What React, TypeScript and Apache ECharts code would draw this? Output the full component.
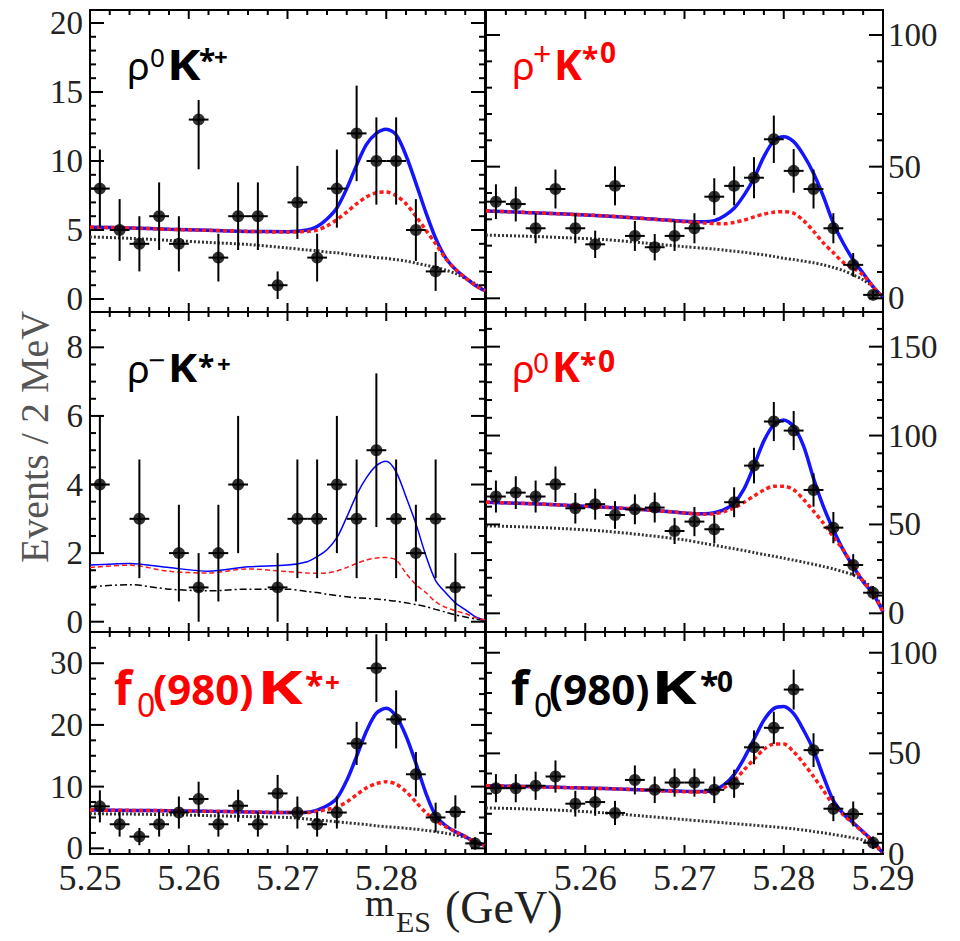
import React, { useEffect, useRef } from "react";
import * as echarts from "echarts";

// ---------------- DATA ----------------
const BIN_CENTERS = [5.251, 5.253, 5.255, 5.257, 5.259, 5.261, 5.263, 5.265, 5.267, 5.269, 5.271, 5.273, 5.275, 5.277, 5.279, 5.281, 5.283, 5.285, 5.287, 5.289];
const HALF_BIN = 0.001;
const CURVE_X = [5.25, 5.254, 5.258, 5.262, 5.266, 5.27, 5.272, 5.273, 5.274, 5.275, 5.276, 5.277, 5.278, 5.279, 5.28, 5.281, 5.282, 5.283, 5.284, 5.285, 5.286, 5.287, 5.288, 5.289, 5.29];

const X_MAJOR_TICKS = [5.25, 5.26, 5.27, 5.28, 5.29];
const X_MINOR_TICKS = [5.252, 5.254, 5.256, 5.258, 5.262, 5.264, 5.266, 5.268, 5.272, 5.274, 5.276, 5.278, 5.282, 5.284, 5.286, 5.288];
const X_LABELS_LEFT = [5.25, 5.26, 5.27, 5.28];
const X_LABELS_RIGHT = [5.26, 5.27, 5.28, 5.29];

// rho0 K*+ (top left)
const RHO0_KSP_VALUES = [8, 5, 4, 6, 4, 13, 3, 6, 6, 1, 7, 3, 8, 12, 10, 10, 5, 2, null, null];
const RHO0_KSP_ERRORS = [2.83, 2.24, 2, 2.45, 2, 3.6, 1.73, 2.45, 2.45, 1, 2.65, 1.73, 2.83, 3.46, 3.16, 3.16, 2.24, 1.41, null, null];
const RHO0_KSP_TOTAL = [5.2, 5.15, 5.05, 4.98, 4.9, 4.88, 5.0, 5.25, 5.8, 6.6, 8.0, 9.7, 11.2, 12.0, 12.3, 11.9, 10.4, 8.4, 6.3, 4.4, 3.0, 2.15, 1.55, 1.0, 0.6];
const RHO0_KSP_DASHED = [5.2, 5.15, 5.05, 4.98, 4.9, 4.85, 4.9, 5.0, 5.3, 5.75, 6.3, 6.9, 7.4, 7.7, 7.75, 7.5, 6.9, 6.0, 5.0, 4.0, 2.95, 2.15, 1.55, 1.0, 0.6];
const RHO0_KSP_BKG = [4.5, 4.4, 4.25, 4.1, 3.95, 3.7, 3.55, 3.5, 3.4, 3.35, 3.25, 3.15, 3.1, 3.0, 2.95, 2.85, 2.75, 2.6, 2.45, 2.3, 2.1, 1.85, 1.5, 1.1, 0.6];
const RHO0_KSP_Y_MAJOR = [0, 5, 10, 15, 20];
const RHO0_KSP_Y_MINOR = [1, 2, 3, 4, 6, 7, 8, 9, 11, 12, 13, 14, 16, 17, 18, 19];

// rho+ K*0 (top right)
const RHOP_KS0_VALUES = [36.7, 35.8, 26.6, 41.5, 26.6, 20.5, 42.7, 23.7, 19.4, 23.7, 26.6, 38.6, 42.7, 45.8, 60.4, 48.4, 41.5, 26.6, 12.7, 1.3];
const RHOP_KS0_ERRORS = [6.6, 6.6, 5.7, 7.4, 5.7, 5.2, 7.4, 5.7, 5.0, 5.7, 5.7, 7.0, 7.4, 7.8, 9.0, 8.3, 7.4, 5.7, 4.5, 1.6];
const RHOP_KS0_TOTAL = [33.2, 32.6, 32.0, 31.3, 30.3, 29.3, 29.1, 29.5, 31.3, 34.2, 39.2, 45.6, 53.8, 59.8, 61.4, 59.5, 54.4, 47.5, 38.6, 28.5, 20.9, 14.6, 9.5, 4.4, 0.3];
const RHOP_KS0_DASHED = [33.2, 32.6, 32.0, 31.3, 30.3, 29.1, 28.6, 28.4, 28.3, 28.8, 29.7, 30.9, 32.0, 32.7, 32.9, 32.3, 29.5, 25.5, 21.0, 17.3, 13.6, 11.5, 8.8, 4.4, 0.3];
const RHOP_KS0_BKG = [24.0, 23.6, 23.0, 22.3, 21.0, 19.6, 19.0, 18.7, 18.3, 17.9, 17.5, 17.0, 16.5, 15.9, 15.2, 14.7, 14.1, 13.5, 12.7, 11.7, 10.5, 8.9, 7.0, 4.3, 0.3];
const RHOP_KS0_Y_MAJOR = [0, 50, 100];
const RHOP_KS0_Y_MINOR = [10, 20, 30, 40, 60, 70, 80, 90];

// rho- K*+ (middle left)
const RHOM_KSP_VALUES = [4, null, 3, null, 2, 1, 2, 4, null, 1, 3, 3, 4, 3, 5, 3, 2, 3, 1, null];
const RHOM_KSP_ERRORS = [2, null, 1.73, null, 1.41, 1, 1.41, 2, null, 1, 1.73, 1.73, 2, 1.73, 2.24, 1.73, 1.41, 1.73, 1, null];
const RHOM_KSP_TOTAL = [1.65, 1.7, 1.58, 1.47, 1.6, 1.65, 1.75, 1.9, 2.1, 2.45, 3.05, 3.7, 4.2, 4.55, 4.68, 4.37, 3.64, 2.86, 1.94, 1.2, 0.85, 0.55, 0.35, 0.15, 0.05];
const RHOM_KSP_DASHED = [1.58, 1.65, 1.47, 1.42, 1.54, 1.46, 1.42, 1.41, 1.42, 1.48, 1.58, 1.7, 1.8, 1.86, 1.87, 1.8, 1.41, 1.08, 0.85, 0.58, 0.42, 0.32, 0.24, 0.12, 0.05];
const RHOM_KSP_BKG = [1.02, 1.08, 0.95, 0.9, 0.95, 0.95, 0.88, 0.85, 0.8, 0.76, 0.73, 0.7, 0.68, 0.66, 0.63, 0.6, 0.55, 0.5, 0.44, 0.36, 0.28, 0.2, 0.14, 0.08, 0.04];
const RHOM_KSP_Y_MAJOR = [0, 2, 4, 6, 8];
const RHOM_KSP_Y_MINOR = [0.5, 1, 1.5, 2.5, 3, 3.5, 4.5, 5, 5.5, 6.5, 7, 7.5, 8.5];

// rho0 K*0 (middle right)
const RHO0_KS0_VALUES = [65.7, 67.9, 65.7, 72.6, 59.1, 61.4, 55.3, 58.5, 59.5, 46.3, 51.6, 47.3, 62.5, 83.1, 107.9, 102.8, 69.4, 48.2, 27.2, 11.6];
const RHO0_KS0_ERRORS = [9, 9.2, 9, 10, 8.6, 8.7, 7.8, 8.4, 8.4, 7.3, 8.2, 8, 8.4, 10, 11, 11, 9.4, 8.8, 6.1, 3.8];
const RHO0_KS0_TOTAL = [62.5, 61.8, 60.8, 59.7, 58.3, 56.5, 56.0, 56.6, 58.3, 62.0, 70.0, 83.0, 97.0, 106.0, 108.8, 105.0, 94.0, 76.0, 60.0, 47.0, 35.6, 26.3, 17.8, 11.0, 0.9];
const RHO0_KS0_DASHED = [62.5, 61.8, 60.8, 59.7, 58.3, 56.5, 55.8, 56.0, 57.2, 59.3, 62.5, 66.0, 69.4, 71.5, 71.5, 69.5, 64.0, 57.5, 50.7, 43.0, 35.6, 26.3, 18.2, 11.0, 0.9];
const RHO0_KS0_BKG = [49.2, 48.6, 47.6, 46.2, 44.0, 41.3, 39.3, 38.3, 37.3, 36.3, 35.3, 34.2, 33.1, 32.1, 31.0, 29.9, 28.8, 27.6, 26.3, 25.0, 23.4, 21.6, 18.5, 13.1, 0.9];
const RHO0_KS0_Y_MAJOR = [0, 50, 100, 150];
const RHO0_KS0_Y_MINOR = [10, 20, 30, 40, 60, 70, 80, 90, 110, 120, 130, 140, 160];

// f0(980) K*+ (bottom left)
const F0_KSP_VALUES = [6.8, 3.9, 1.9, 3.9, 5.8, 8, 3.9, 6.9, 3.9, 8.9, 5.8, 3.9, 5.8, 17, 29.2, 20.9, 12, 5, 5.9, 0.8];
const F0_KSP_ERRORS = [2.6, 2, 1.4, 2, 2.6, 2.8, 2, 2.6, 2, 3, 2.6, 2, 2.6, 3.5, 5.5, 4.7, 3.6, 2.4, 2.7, 1];
const F0_KSP_TOTAL = [6.2, 6.15, 6.1, 6.0, 5.9, 5.8, 5.85, 6.2, 6.9, 8.1, 11.0, 14.9, 19.0, 21.9, 22.7, 21.4, 18.2, 13.8, 9.0, 5.3, 3.7, 2.7, 1.9, 1.0, 0.5];
const F0_KSP_DASHED = [6.2, 6.15, 6.1, 6.0, 5.9, 5.8, 5.8, 6.0, 6.3, 6.7, 7.5, 8.7, 9.8, 10.5, 10.8, 10.4, 9.2, 7.5, 5.8, 4.5, 3.5, 2.7, 1.9, 1.0, 0.5];
const F0_KSP_BKG = [5.6, 5.55, 5.45, 5.3, 5.15, 5.0, 4.75, 4.6, 4.45, 4.3, 4.15, 4.0, 3.85, 3.65, 3.5, 3.4, 3.25, 3.1, 2.9, 2.7, 2.45, 2.15, 1.75, 1.2, 0.5];
const F0_KSP_Y_MAJOR = [0, 10, 20, 30];
const F0_KSP_Y_MINOR = [2.5, 5, 7.5, 12.5, 15, 17.5, 22.5, 25, 27.5, 32.5];

// f0(980) K*0 (bottom right)
const F0_KS0_VALUES = [32.7, 32.7, 33.9, 38.5, 25, 25.8, 20.4, 36.8, 31.9, 35.5, 35.5, 31.9, 34.9, 53, 62.7, 81.7, 51.6, 22.5, 19.9, 5.6];
const F0_KS0_ERRORS = [7, 7, 7, 8, 6.4, 6.8, 6, 7.2, 6.6, 7, 7, 6.6, 7, 8.4, 8, 9.9, 8.4, 6.2, 6.2, 3.1];
const F0_KS0_TOTAL = [33.9, 33.5, 33.0, 32.5, 31.8, 31.2, 31.1, 31.8, 34.5, 39.5, 47.5, 57.0, 66.5, 72.3, 73.3, 69.7, 61.5, 51.6, 38.5, 26.5, 20.0, 15.5, 11.0, 6.4, 0.3];
const F0_KS0_DASHED = [33.9, 33.5, 33.0, 32.5, 31.8, 30.9, 30.8, 31.3, 33.0, 36.5, 41.8, 47.0, 52.0, 54.6, 54.6, 50.8, 45.0, 38.5, 31.5, 24.5, 19.5, 15.1, 10.8, 5.9, 0.3];
const F0_KS0_BKG = [22.9, 22.4, 21.6, 20.4, 18.8, 17.1, 16.3, 15.9, 15.5, 15.1, 14.7, 14.3, 13.9, 13.5, 13.0, 12.5, 11.9, 11.2, 10.5, 9.7, 8.9, 8.0, 6.9, 4.8, 0.3];
const F0_KS0_Y_MAJOR = [0, 50, 100];
const F0_KS0_Y_MINOR = [10, 20, 30, 40, 60, 70, 80, 90];

const Y_TITLE = "Events / 2 MeV";

// ---------------- LAYOUT ----------------
const COLS = [
  { left: 90, width: 395 },
  { left: 486, width: 397 },
];
const ROWS = [
  { top: 10, height: 302 },
  { top: 312, height: 320 },
  { top: 632, height: 222 },
];
// tick code -> length (0,1: bottom x; 2,3: top x; 4,5: left y; 6,7: right y; even = major, odd = minor)
const TICK_LENGTHS = [9, 5, 9, 5, 14, 6, 14, 6];

type Panel = {
  col: number; row: number; yMin: number; yMax: number;
  yMajor: number[]; yMinor: number[];
  values: (number | null)[]; errors: (number | null)[];
  total: number[]; dashed: number[]; bkg: number[]; thin: boolean;
};

const PANELS: Panel[] = [
  { col: 0, row: 0, yMin: -0.94, yMax: 20.94, yMajor: RHO0_KSP_Y_MAJOR, yMinor: RHO0_KSP_Y_MINOR, values: RHO0_KSP_VALUES, errors: RHO0_KSP_ERRORS, total: RHO0_KSP_TOTAL, dashed: RHO0_KSP_DASHED, bkg: RHO0_KSP_BKG, thin: false },
  { col: 1, row: 0, yMin: -5.2, yMax: 109.5, yMajor: RHOP_KS0_Y_MAJOR, yMinor: RHOP_KS0_Y_MINOR, values: RHOP_KS0_VALUES, errors: RHOP_KS0_ERRORS, total: RHOP_KS0_TOTAL, dashed: RHOP_KS0_DASHED, bkg: RHOP_KS0_BKG, thin: false },
  { col: 0, row: 1, yMin: -0.3, yMax: 9.03, yMajor: RHOM_KSP_Y_MAJOR, yMinor: RHOM_KSP_Y_MINOR, values: RHOM_KSP_VALUES, errors: RHOM_KSP_ERRORS, total: RHOM_KSP_TOTAL, dashed: RHOM_KSP_DASHED, bkg: RHOM_KSP_BKG, thin: true },
  { col: 1, row: 1, yMin: -10.5, yMax: 169.5, yMajor: RHO0_KS0_Y_MAJOR, yMinor: RHO0_KS0_Y_MINOR, values: RHO0_KS0_VALUES, errors: RHO0_KS0_ERRORS, total: RHO0_KS0_TOTAL, dashed: RHO0_KS0_DASHED, bkg: RHO0_KS0_BKG, thin: false },
  { col: 0, row: 2, yMin: -0.92, yMax: 35.06, yMajor: F0_KSP_Y_MAJOR, yMinor: F0_KSP_Y_MINOR, values: F0_KSP_VALUES, errors: F0_KSP_ERRORS, total: F0_KSP_TOTAL, dashed: F0_KSP_DASHED, bkg: F0_KSP_BKG, thin: false },
  { col: 1, row: 2, yMin: 0, yMax: 110.3, yMajor: F0_KS0_Y_MAJOR, yMinor: F0_KS0_Y_MINOR, values: F0_KS0_VALUES, errors: F0_KS0_ERRORS, total: F0_KS0_TOTAL, dashed: F0_KS0_DASHED, bkg: F0_KS0_BKG, thin: false },
];

type Piece = { t: string; x: number; base: number; size: number; bold: boolean; sx?: number };
const LABELS: { color: string; pieces: Piece[] }[] = [
  { color: "#000", pieces: [
    { t: "ρ", x: 127, base: 80, size: 38, bold: false },
    { t: "0", x: 150, base: 67, size: 26, bold: false },
    { t: "K", x: 167, base: 80, size: 42, bold: true, sx: 1.2 },
    { t: "*", x: 199, base: 71, size: 30, bold: true },
    { t: "+", x: 214, base: 66, size: 24, bold: true },
  ] },
  { color: "#ff0000", pieces: [
    { t: "ρ", x: 512, base: 80, size: 38, bold: false },
    { t: "+", x: 533, base: 66, size: 32, bold: false },
    { t: "K", x: 554, base: 80, size: 42, bold: true },
    { t: "*", x: 582, base: 69, size: 30, bold: true },
    { t: "0", x: 600, base: 63, size: 28, bold: true },
  ] },
  { color: "#000", pieces: [
    { t: "ρ", x: 127, base: 383, size: 38, bold: false },
    { t: "−", x: 148, base: 371, size: 30, bold: false },
    { t: "K", x: 168, base: 382, size: 40, bold: true, sx: 1.1 },
    { t: "*", x: 198, base: 377, size: 30, bold: true },
    { t: "+", x: 217, base: 373, size: 24, bold: true },
  ] },
  { color: "#ff0000", pieces: [
    { t: "ρ", x: 512, base: 383, size: 38, bold: false },
    { t: "0", x: 533, base: 373, size: 28, bold: false },
    { t: "K", x: 552, base: 382, size: 42, bold: true },
    { t: "*", x: 580, base: 375, size: 30, bold: true },
    { t: "0", x: 598, base: 372, size: 30, bold: true },
  ] },
  { color: "#ff0000", pieces: [
    { t: "f", x: 114, base: 705, size: 46, bold: true },
    { t: "0", x: 137, base: 717, size: 32, bold: false },
    { t: "(980)", x: 153, base: 705, size: 42, bold: true },
    { t: "K", x: 257, base: 704, size: 46, bold: true, sx: 1.5 },
    { t: "*", x: 305, base: 697, size: 34, bold: true },
    { t: "+", x: 325, base: 692, size: 26, bold: true },
  ] },
  { color: "#000", pieces: [
    { t: "f", x: 511, base: 705, size: 46, bold: true },
    { t: "0", x: 534, base: 717, size: 32, bold: false },
    { t: "(980)", x: 549, base: 705, size: 42, bold: true },
    { t: "K", x: 651, base: 704, size: 46, bold: true, sx: 1.5 },
    { t: "*", x: 700, base: 697, size: 34, bold: true },
    { t: "0", x: 717, base: 692, size: 28, bold: true },
  ] },
];

const SERIF = "'Liberation Serif', 'Times New Roman', serif";
const SANS = "'Noto Sans', 'DejaVu Sans', sans-serif";
const INK = "#000";

function buildOption() {
  const grid: any[] = [];
  const xAxis: any[] = [];
  const yAxis: any[] = [];
  const series: any[] = [];

  PANELS.forEach((p, g) => {
    const c = COLS[p.col];
    const r = ROWS[p.row];
    grid.push({ left: c.left, top: r.top, width: c.width, height: r.height, show: true, borderColor: "#000", borderWidth: 2 });

    const showXLabels = p.row === 2;
    xAxis.push({
      gridIndex: g, type: "value", min: 5.25, max: 5.29, position: "bottom",
      axisLine: { show: false, onZero: false }, splitLine: { show: false }, axisTick: { show: false },
      axisLabel: showXLabels
        ? { show: true, customValues: p.col === 0 ? X_LABELS_LEFT : X_LABELS_RIGHT, formatter: (v: number) => v.toFixed(2), fontSize: 36, lineHeight: 28, fontFamily: SERIF, color: "#222", margin: 10 }
        : { show: false },
    });
    yAxis.push({
      gridIndex: g, type: "value", min: p.yMin, max: p.yMax, position: p.col === 0 ? "left" : "right",
      axisLine: { show: false, onZero: false }, splitLine: { show: false }, axisTick: { show: false },
      axisLabel: { show: true, customValues: p.yMajor, formatter: (v: number) => String(v), fontSize: 33, lineHeight: 20, fontFamily: SERIF, color: "#222", margin: p.col === 0 ? 7 : 5 },
    });

    const curve = (ys: number[]) => CURVE_X.map((x, i) => [x, ys[i]]);
    const w = p.thin ? 1.5 : 3.5;
    series.push({
      type: "line", xAxisIndex: g, yAxisIndex: g, data: curve(p.bkg), symbol: "none", smooth: 0.3, silent: true, z: 3,
      lineStyle: p.thin ? { color: "#000", width: 1.5, type: [7, 3, 2, 3] } : { color: "#333", width: 3, type: [2, 2] },
    });
    series.push({
      type: "line", xAxisIndex: g, yAxisIndex: g, data: curve(p.total), symbol: "none", smooth: 0.3, silent: true, z: 4,
      lineStyle: { color: p.thin ? "#0000ff" : "#1414ff", width: w },
    });
    series.push({
      type: "line", xAxisIndex: g, yAxisIndex: g, data: curve(p.dashed), symbol: "none", smooth: 0.3, silent: true, z: 5,
      lineStyle: { color: "#ff1a1a", width: w, type: p.thin ? [5, 3] : [4, 3] },
    });

    // one custom series per panel: error bars (3rd value >= 0 is the error)
    // and frame tick marks (3rd value < 0 encodes which tick: -(code + 1))
    const pts: number[][] = [];
    BIN_CENTERS.forEach((x, i) => {
      const v = p.values[i];
      const e = p.errors[i];
      if (v !== null && e !== null) pts.push([x, v, e]);
    });
    const yMid = (p.yMin + p.yMax) / 2;
    const items: number[][] = pts.slice();
    X_MAJOR_TICKS.forEach((v) => { items.push([v, yMid, -1]); items.push([v, yMid, -3]); });
    X_MINOR_TICKS.forEach((v) => { items.push([v, yMid, -2]); items.push([v, yMid, -4]); });
    p.yMajor.forEach((v) => { items.push([5.27, v, -5]); items.push([5.27, v, -7]); });
    p.yMinor.forEach((v) => { items.push([5.27, v, -6]); items.push([5.27, v, -8]); });

    series.push({
      type: "custom", xAxisIndex: g, yAxisIndex: g, data: items, silent: true, z: 6, clip: true,
      encode: { x: 0, y: 1 },
      renderItem: (params: any, api: any) => {
        const x = api.value(0);
        const y = api.value(1);
        const e = api.value(2);
        if (e >= 0) {
          const cpt = api.coord([x, y]);
          const top = api.coord([x, y + e]);
          const bot = api.coord([x, y - e]);
          const l = api.coord([x - HALF_BIN, y]);
          const rr = api.coord([x + HALF_BIN, y]);
          return {
            type: "group",
            children: [
              { type: "line", shape: { x1: cpt[0], y1: top[1], x2: cpt[0], y2: bot[1] }, style: { stroke: INK, lineWidth: 2 } },
              { type: "line", shape: { x1: l[0], y1: cpt[1], x2: rr[0], y2: cpt[1] }, style: { stroke: INK, lineWidth: 2 } },
            ],
          };
        }
        const code = Math.round(-e - 1);
        const len = TICK_LENGTHS[code] || 6;
        const cs = params.coordSys;
        const pt = api.coord([x, y]);
        const b = cs.y + cs.height;
        const rgt = cs.x + cs.width;
        let shape;
        if (code <= 1) shape = { x1: pt[0], y1: b, x2: pt[0], y2: b - len };
        else if (code <= 3) shape = { x1: pt[0], y1: cs.y, x2: pt[0], y2: cs.y + len };
        else if (code <= 5) shape = { x1: cs.x, y1: pt[1], x2: cs.x + len, y2: pt[1] };
        else shape = { x1: rgt, y1: pt[1], x2: rgt - len, y2: pt[1] };
        return {
          type: "group",
          children: [{ type: "line", shape, style: { stroke: INK, lineWidth: 2 } }],
        };
      },
    });
    series.push({
      type: "scatter", xAxisIndex: g, yAxisIndex: g, data: pts.map((d) => [d[0], d[1]]), symbol: "circle", symbolSize: 12,
      itemStyle: { color: INK }, silent: true, z: 7,
    });
  });

  const graphic: any[] = [];
  // white box behind first label (it hides the top of one error bar, as in the original)
  graphic.push({ type: "rect", z: 100, shape: { x: 103, y: 24, width: 150, height: 76 }, style: { fill: "#fff" } });
  LABELS.forEach((lab) => {
    lab.pieces.forEach((pc) => {
      graphic.push({
        type: "text", z: 101, x: pc.x, y: pc.base - 0.388 * pc.size, scaleX: pc.sx || 1,
        style: {
          text: pc.t, x: 0, y: 0, lineHeight: Math.round(pc.size * 0.8),
          fill: lab.color, fontSize: pc.size, fontFamily: SANS, fontWeight: pc.bold ? "bold" : "normal",
          align: "left", verticalAlign: "middle", textAlign: "left", textVerticalAlign: "middle",
        },
      });
    });
  });
  graphic.push({
    type: "text", z: 101, x: 34, y: 437, rotation: Math.PI / 2,
    style: { text: Y_TITLE, x: 0, y: 0, fill: "#555", fontSize: 40, lineHeight: 30, fontFamily: SERIF, align: "center", verticalAlign: "middle", textAlign: "center", textVerticalAlign: "middle" },
  });
  // x title: m_ES (GeV)
  graphic.push({ type: "text", z: 101, style: { text: "m", x: 365, y: 916 - 0.3375 * 38, lineHeight: 20, fill: "#222", fontSize: 38, fontFamily: SERIF, align: "left", verticalAlign: "middle" } });
  graphic.push({ type: "text", z: 101, style: { text: "ES", x: 396, y: 932 - 0.3375 * 30, lineHeight: 20, fill: "#222", fontSize: 30, fontFamily: SERIF, align: "left", verticalAlign: "middle" } });
  graphic.push({ type: "text", z: 101, style: { text: "(GeV)", x: 445, y: 923 - 0.3375 * 46, lineHeight: 30, fill: "#222", fontSize: 46, fontFamily: SERIF, align: "left", verticalAlign: "middle" } });

  return { animation: false, grid, xAxis, yAxis, series, graphic };
}

export default function App() {
  const ref = useRef<HTMLDivElement>(null);
  useEffect(() => {
    if (!ref.current) return;
    const chart = echarts.init(ref.current, undefined, { renderer: "svg" });
    chart.setOption(buildOption() as any);
    return () => chart.dispose();
  }, []);
  return <div ref={ref} style={{ position: "absolute", left: 0, top: 0, width: 960, height: 941, background: "#fff" }} />;
}
